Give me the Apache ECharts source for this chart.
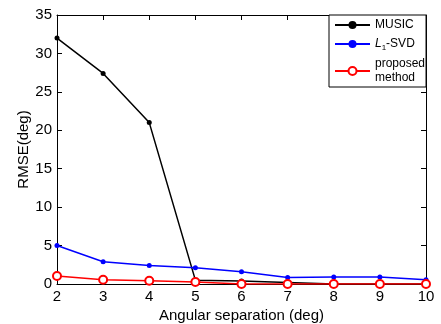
<!DOCTYPE html>
<html>
<head>
<meta charset="utf-8">
<script src="https://cdn.jsdelivr.net/npm/echarts@6/dist/echarts.min.js"></script>
<style>
  html, body { margin: 0; padding: 0; background: #fff; }
  #chart { width: 441px; height: 324px; }
</style>
</head>
<body>
<div id="chart"></div>
<script>
// angular separation (deg)
const separation = [2, 3, 4, 5, 6, 7, 8, 9, 10];
const musicRmse = [32.0, 27.4, 21.0, 0.5, 0.4, 0.2, 0, 0, 0];
const l1svdRmse = [5.0, 2.9, 2.4, 2.1, 1.6, 0.86, 0.9, 0.9, 0.56];
const proposedRmse = [1.04, 0.56, 0.43, 0.26, 0, 0, 0, 0, 0];

const FONT = 'Liberation Sans, Arial, Helvetica, sans-serif';

const pairs = (ys) => separation.map((x, i) => [x, ys[i]]);

const chart = echarts.init(document.getElementById('chart'));

const boxAxis = (position, showLabel, extra) => Object.assign({
  type: 'value',
  position: position,
  nameMoveOverlap: false,
  axisLine: { show: true, onZero: false, lineStyle: { color: '#000', width: 1 } },
  axisTick: { show: true, inside: true, length: 5, lineStyle: { color: '#000' } },
  axisLabel: { show: showLabel, color: '#000', fontSize: 15, fontFamily: FONT, margin: 5 },
  splitLine: { show: false },
}, extra);

const option = {
  animation: false,
  backgroundColor: '#fff',
  grid: { left: 57, right: 15, top: 15, bottom: 40, outerBoundsMode: 'none', containLabel: false },
  xAxis: [
    boxAxis('bottom', true, {
      min: 2, max: 10, interval: 1,
      name: 'Angular separation (deg)',
      nameLocation: 'middle',
      nameGap: 24,
      nameTextStyle: { color: '#000', fontSize: 15, fontFamily: FONT },
    }),
    boxAxis('top', false, { min: 2, max: 10, interval: 1 }),
  ],
  yAxis: [
    boxAxis('left', true, {
      min: 0, max: 35, interval: 5,
      name: 'RMSE(deg)',
      nameLocation: 'middle',
      nameGap: 26,
      nameTextStyle: { color: '#000', fontSize: 15, fontFamily: FONT },
    }),
    boxAxis('right', false, { min: 0, max: 35, interval: 5 }),
  ],
  legend: {
    orient: 'vertical',
    left: 329,
    top: 15,
    backgroundColor: '#fff',
    borderColor: '#000',
    borderWidth: 1,
    borderRadius: 0,
    padding: [3, 1, 2, 5],
    itemWidth: 35,
    itemHeight: 10,
    itemGap: 5,
    textStyle: {
      color: '#000', fontSize: 12, fontFamily: FONT, lineHeight: 14,
      rich: {
        i: { fontStyle: 'italic', fontSize: 12, fontFamily: FONT, color: '#000' },
        s: { fontSize: 8, fontFamily: FONT, color: '#000', padding: [8, 0, 0, 0] },
        n: { fontSize: 12, fontFamily: FONT, color: '#000' },
      },
    },
    formatter: (name) => name === 'L1-SVD' ? '{i|L}{s|1}{n|-SVD}' : name,
    data: ['MUSIC', 'L1-SVD', 'proposed\nmethod'],
  },
  series: [
    {
      name: 'MUSIC',
      type: 'line',
      data: pairs(musicRmse),
      symbol: 'circle',
      symbolSize: 5,
      lineStyle: { color: '#000', width: 1.5 },
      itemStyle: { color: '#000' },
    },
    {
      name: 'L1-SVD',
      type: 'line',
      data: pairs(l1svdRmse),
      symbol: 'circle',
      symbolSize: 5,
      lineStyle: { color: '#0000ff', width: 1.5 },
      itemStyle: { color: '#0000ff' },
    },
    {
      name: 'proposed\nmethod',
      type: 'line',
      data: pairs(proposedRmse),
      symbol: 'emptyCircle',
      symbolSize: 8,
      lineStyle: { color: '#ff0000', width: 1.5 },
      itemStyle: { color: '#ff0000', borderColor: '#ff0000', borderWidth: 1.5 },
    },
  ],
};

chart.setOption(option);
</script>
</body>
</html>
